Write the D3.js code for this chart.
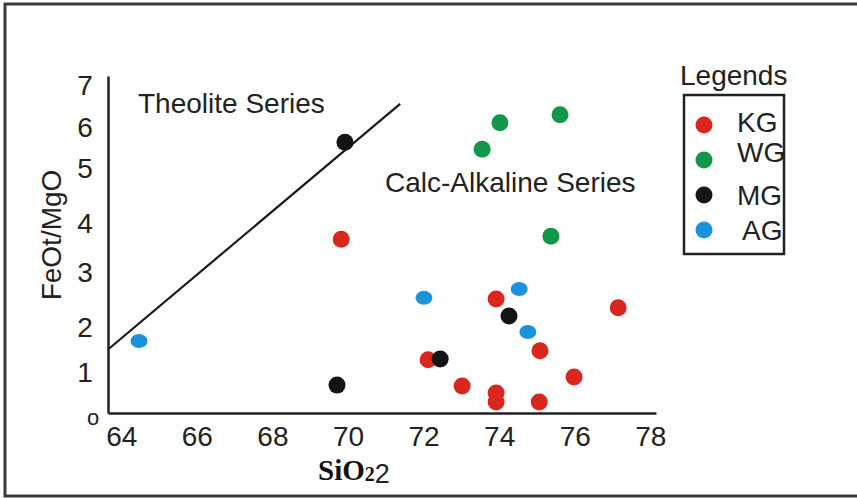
<!DOCTYPE html>
<html>
<head>
<meta charset="utf-8">
<script src="https://cdn.jsdelivr.net/npm/d3@7"></script>
<style>
  body { margin: 0; background: #fff; }
  text { font-family: 'Liberation Sans', Arial, sans-serif; fill: #222; }
</style>
</head>
<body>
<script>
const w = 857;
const h = 498;

// series values [SiO2, FeOt/MgO]
const kgData = [[69.82, 3.67], [73.92, 2.51], [77.15, 2.35], [75.08, 1.47], [72.12, 1.27],
  [75.98, 0.88], [73.02, 0.66], [73.92, 0.49], [73.92, 0.27], [75.06, 0.27]];
const wgData = [[74.02, 6.10], [75.61, 6.29], [73.55, 5.46], [75.37, 3.73]];
const mgData = [[69.92, 5.63], [74.26, 2.20], [72.44, 1.29], [69.71, 0.68]];
const agData = [[64.47, 1.69], [72.01, 2.53], [74.53, 2.69], [74.76, 1.89]];

const seriesNames = ['KG', 'WG', 'MG', 'AG'];
const seriesColors = ['#d9261e', '#12964a', '#141414', '#1b93dc'];

const xTicks = [64, 66, 68, 70, 72, 74, 76, 78];
const yTicks = [0, 1, 2, 3, 4, 5, 6, 7];
const yTickLabels = ['o', '1', '2', '3', '4', '5', '6', '7'];

// boundary between theolite and calc-alkaline fields
const divider = [[63.65, 1.5], [71.38, 6.55]];

const svg = d3.select('body')
  .append('svg')
  .attr('width', w)
  .attr('height', h);

// outer frame
svg.append('rect')
  .attr('x', 5)
  .attr('y', 4)
  .attr('width', 900)
  .attr('height', 492)
  .attr('fill', 'none')
  .attr('stroke', '#3a3a3a')
  .attr('stroke-width', 3);

const x = d3.scaleLinear()
  .domain([63.65, 78.15])
  .range([108, 656]);

// the hand-drawn y axis is not evenly spaced
const y = d3.scaleLinear()
  .domain([0, 1, 2, 3, 4, 5, 6, 7, 7.2])
  .range([413, 372, 327, 272, 223, 168, 127, 85, 76]);

const xAxis = svg.append('g')
  .attr('transform', 'translate(0,413)')
  .call(d3.axisBottom(x).tickValues(xTicks).tickSize(0).tickPadding(13));
xAxis.select('.domain').attr('stroke', '#222').attr('stroke-width', 2.5);
xAxis.selectAll('text')
  .style('font-size', '28px')
  .style('font-family', "'Liberation Sans', Arial, sans-serif")
  .attr('fill', '#333');

const yAxis = svg.append('g')
  .attr('transform', 'translate(108,0)')
  .call(d3.axisLeft(y).tickValues(yTicks).tickSize(0)
    .tickFormat((d, i) => yTickLabels[i]));
yAxis.select('.domain').attr('stroke', '#222').attr('stroke-width', 2.5);
yAxis.selectAll('text')
  .attr('text-anchor', 'middle')
  .attr('x', d => d === 0 ? -15 : -23)
  .attr('dy', d => d === 0 ? '0.5em' : '0.35em')
  .style('font-size', d => d === 0 ? '22px' : '28px')
  .style('font-family', "'Liberation Sans', Arial, sans-serif")
  .attr('fill', '#333');

// dividing line
svg.append('path')
  .datum(divider)
  .attr('d', d3.line().x(d => x(d[0])).y(d => y(d[1])))
  .attr('fill', 'none')
  .attr('stroke', '#1a1a1a')
  .attr('stroke-width', 2.2);

svg.append('text')
  .attr('x', 138)
  .attr('y', 113)
  .style('font-size', '28px')
  .text('Theolite Series');

svg.append('text')
  .attr('x', 385)
  .attr('y', 192)
  .style('font-size', '28px')
  .text('Calc-Alkaline Series');

// axis titles
svg.append('text')
  .attr('transform', 'translate(61,235) rotate(-90)')
  .attr('text-anchor', 'middle')
  .style('font-size', '28px')
  .text('FeOt/MgO');

const xTitle = svg.append('text')
  .attr('x', 318)
  .attr('y', 480);
xTitle.append('tspan')
  .style('font-family', "'Liberation Serif', 'Times New Roman', serif")
  .style('font-weight', 'bold')
  .style('font-size', '29px')
  .attr('fill', '#111')
  .text('SiO');
xTitle.append('tspan')
  .style('font-family', "'Liberation Serif', 'Times New Roman', serif")
  .style('font-weight', 'bold')
  .style('font-size', '20px')
  .attr('fill', '#111')
  .attr('dy', 1)
  .text('2');
xTitle.append('tspan')
  .style('font-size', '27px')
  .attr('dx', 0)
  .attr('dy', 2)
  .text('2');

// points
const allSeries = [kgData, wgData, mgData, agData];
allSeries.forEach((data, i) => {
  svg.append('g')
    .selectAll('ellipse')
    .data(data)
    .enter()
    .append('ellipse')
    .attr('cx', d => x(d[0]))
    .attr('cy', d => y(d[1]))
    .attr('rx', 8.5)
    .attr('ry', seriesNames[i] === 'AG' ? 7 : 8.5)
    .style('fill', seriesColors[i]);
});

// legend
svg.append('text')
  .attr('x', 680)
  .attr('y', 85)
  .style('font-size', '28px')
  .text('Legends');

svg.append('rect')
  .attr('x', 684)
  .attr('y', 95)
  .attr('width', 100)
  .attr('height', 159)
  .attr('fill', 'none')
  .attr('stroke', '#222')
  .attr('stroke-width', 2.5);

const legendY = d3.scalePoint()
  .domain(seriesNames)
  .range([125, 230]);

const legend = svg.append('g')
  .selectAll('g')
  .data(seriesNames)
  .enter()
  .append('g');

legend.append('circle')
  .attr('cx', 704)
  .attr('cy', d => legendY(d))
  .attr('r', 8.5)
  .style('fill', (d, i) => seriesColors[i]);

const legendShift = { KG: 7, WG: 2, MG: 10, AG: 10 };
legend.append('text')
  .attr('x', d => d === 'AG' ? 742 : 737)
  .attr('y', d => legendY(d) + legendShift[d])
  .style('font-size', '28px')
  .text(d => d);
</script>
</body>
</html>
